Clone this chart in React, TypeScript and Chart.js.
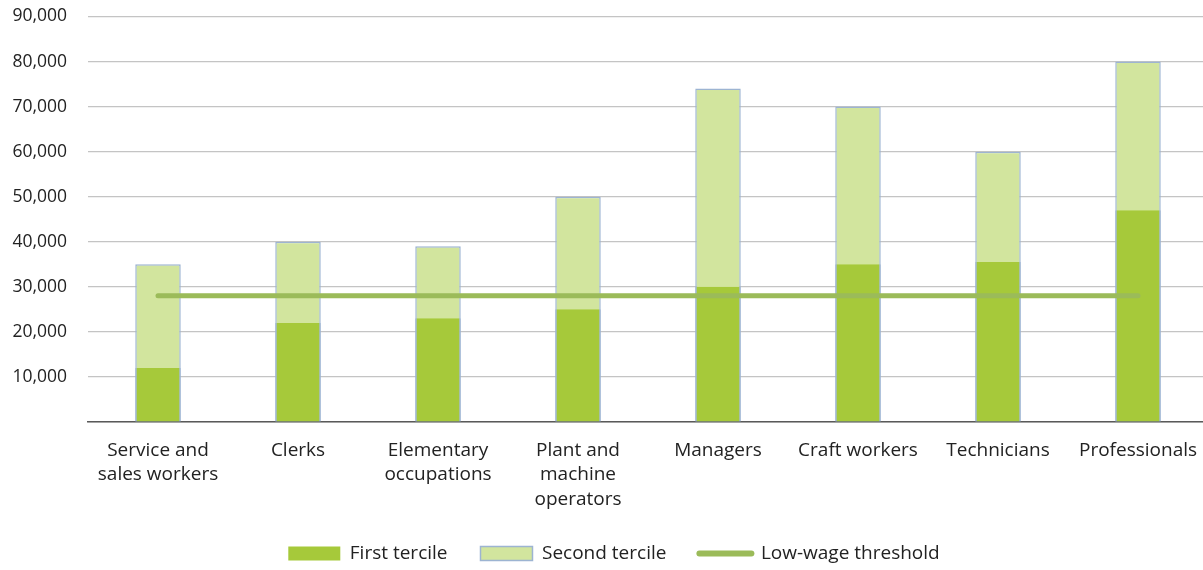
import React, { useEffect, useRef } from "react";
import { Chart, registerables } from "chart.js";

Chart.register(...registerables);

// Occupation groups on the category axis
const occupations: (string | string[])[] = [
  ["Service and", "sales workers"],
  "Clerks",
  ["Elementary", "occupations"],
  ["Plant and", "machine", "operators"],
  "Managers",
  "Craft workers",
  "Technicians",
  "Professionals",
];

// Upper bound of the first tercile of annual earnings
const firstTercile = [12000, 22000, 23000, 25000, 30000, 35000, 35500, 47000];
// Upper bound of the second tercile of annual earnings
const secondTercile = [35000, 40000, 39000, 50000, 74000, 70000, 60000, 80000];
// Low-wage threshold, same for every group
const lowWageThreshold = [28000, 28000, 28000, 28000, 28000, 28000, 28000, 28000];

const yTickValues = [0, 10000, 20000, 30000, 40000, 50000, 60000, 70000, 80000, 90000];

const FONT = "'Open Sans', 'Noto Sans', sans-serif";
const DARK = "#a6c93a";
const LIGHT = "#d2e59e";
const EDGE = "#9db4d2";
const LINE = "#9bbb59";
const TEXT = "#222222";

// Nudges the centred legend row sideways
const legendShift = {
  id: "legendShift",
  afterLayout(chart: any) {
    const lg = chart.legend;
    if (lg) {
      lg.left += 10;
      lg.right += 10;
    }
  },
};

export default function App() {
  const canvasRef = useRef<HTMLCanvasElement | null>(null);

  useEffect(() => {
    document.body.style.margin = "0";
    const canvas = canvasRef.current;
    if (!canvas) return;

    const chart = new Chart(canvas, {
      type: "bar",
      data: {
        labels: occupations,
        datasets: [
          {
            type: "line",
            label: "Low-wage threshold",
            data: lowWageThreshold,
            borderColor: LINE,
            backgroundColor: LINE,
            borderWidth: 5,
            borderCapStyle: "round",
            pointRadius: 0,
            order: 0,
          },
          {
            label: "First tercile",
            data: firstTercile,
            backgroundColor: DARK,
            borderColor: EDGE,
            borderWidth: { left: 1.5, right: 1.5, top: 0, bottom: 0 },
            grouped: false,
            barPercentage: 0.325,
            categoryPercentage: 1,
            order: 1,
          },
          {
            label: "Second tercile",
            data: secondTercile,
            backgroundColor: LIGHT,
            borderColor: EDGE,
            borderWidth: 1.5,
            borderSkipped: false,
            grouped: false,
            barPercentage: 0.325,
            categoryPercentage: 1,
            order: 2,
          },
        ],
      },
      plugins: [legendShift],
      options: {
        animation: false,
        responsive: true,
        maintainAspectRatio: false,
        layout: { padding: { left: 0, right: 0, top: 0, bottom: -3 } },
        plugins: {
          tooltip: { enabled: false },
          legend: {
            position: "bottom",
            labels: {
              font: { family: FONT, size: 19 },
              color: TEXT,
              padding: 33,
              usePointStyle: true,
              pointStyleWidth: 52,
              boxHeight: 14,
              generateLabels: () => [
                {
                  text: "First tercile",
                  fillStyle: DARK,
                  strokeStyle: DARK,
                  lineWidth: 0,
                  pointStyle: "rect",
                  fontColor: TEXT,
                  datasetIndex: 1,
                },
                {
                  text: "Second tercile",
                  fillStyle: LIGHT,
                  strokeStyle: EDGE,
                  lineWidth: 1.5,
                  pointStyle: "rect",
                  fontColor: TEXT,
                  datasetIndex: 2,
                },
                {
                  text: "Low-wage threshold",
                  fillStyle: LINE,
                  strokeStyle: LINE,
                  lineWidth: 6,
                  lineCap: "round",
                  pointStyle: "line",
                  fontColor: TEXT,
                  datasetIndex: 0,
                },
              ],
            },
          },
        },
        scales: {
          x: {
            grid: { display: false },
            border: { display: true, color: "#5a5a5a", width: 1.5 },
            ticks: {
              font: { family: FONT, size: 19, lineHeight: 1.29 },
              color: TEXT,
              maxRotation: 0,
              autoSkip: false,
              padding: 8,
            },
            afterFit: (scale: any) => {
              scale.height = 89;
            },
          },
          y: {
            min: 0,
            max: 90000,
            border: { display: false },
            grid: { color: "#c4c4c4", lineWidth: 1.2, drawTicks: false },
            afterBuildTicks: (scale: any) => {
              scale.ticks = yTickValues.map((v) => ({ value: v }));
            },
            ticks: {
              font: { family: FONT, size: 17.5 },
              color: TEXT,
              padding: 21,
              callback: (v: any) => (Number(v) === 0 ? "" : Number(v).toLocaleString("en-US")),
            },
            afterFit: (scale: any) => {
              scale.width = 88;
            },
          },
        },
      },
    });

    return () => chart.destroy();
  }, []);

  return (
    <div style={{ width: 1203, height: 570, position: "relative", overflow: "hidden" }}>
      <div style={{ position: "absolute", left: 0, top: -15, width: 1208, height: 585 }}>
        <canvas ref={canvasRef} />
      </div>
    </div>
  );
}
